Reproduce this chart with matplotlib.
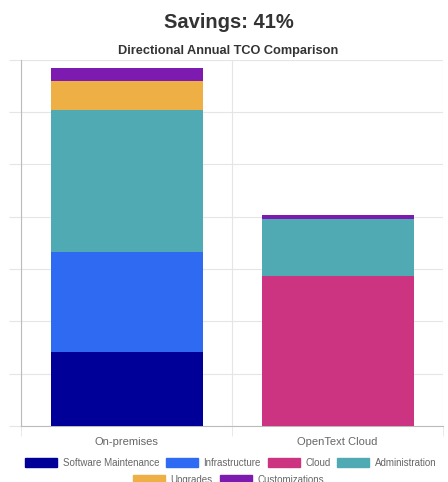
import matplotlib.pyplot as plt
from matplotlib.patches import Patch

plt.rcParams['font.family'] = ['Liberation Sans', 'DejaVu Sans']

# Directional annual TCO (relative units, one grid step = 100)
categories = ["On-premises", "OpenText Cloud"]
series_names = ["Software Maintenance", "Infrastructure", "Cloud",
                "Administration", "Upgrades", "Customizations"]
software_maintenance = [142, 0]
infrastructure = [191, 0]
cloud = [0, 286]
administration = [271, 109]
upgrades = [55, 0]
customizations = [26, 8]

colors = ["#000099", "#2f6bf2", "#cc3380", "#50aab3", "#eeb045", "#7d1ab0"]
series = [software_maintenance, infrastructure, cloud, administration,
          upgrades, customizations]

fig = plt.figure(figsize=(4.48, 4.82), dpi=100)
ax = fig.add_axes([0.047, 0.116, 0.942, 0.760])

x = range(len(categories))
bottom = [0, 0]
for name, vals, c in zip(series_names, series, colors):
    ax.bar(x, vals, bottom=bottom, width=0.72, color=c, label=name, zorder=3)
    bottom = [b + v for b, v in zip(bottom, vals)]

ax.set_xlim(-0.5, 1.5)
ax.set_ylim(0, 700)
ax.set_yticks(range(0, 701, 100))
ax.set_yticklabels([])
ax.set_xticks([0, 1])
ax.set_xticklabels(categories, color="#666666", fontsize=8)
ax.set_xticks([-0.5, 0.5, 1.5], minor=True)
ax.tick_params(axis="x", which="major", length=0, pad=8)
ax.tick_params(axis="x", which="minor", length=7, color="#e5e5e5")
ax.tick_params(axis="y", length=9, color="#e5e5e5")
ax.grid(True, which="major", axis="y", color="#e5e5e5", lw=0.8, zorder=0)
ax.grid(True, which="minor", axis="x", color="#e5e5e5", lw=0.8, zorder=0)
for s in ["top", "right"]:
    ax.spines[s].set_visible(False)
ax.spines["left"].set_color("#bbbbbb")
ax.spines["bottom"].set_color("#bbbbbb")

fig.text(0.51, 0.953, "Savings: 41%", ha="center", va="center",
         fontsize=14.5, fontweight="bold", color="#333333")
fig.text(0.51, 0.895, "Directional Annual TCO Comparison", ha="center",
         va="center", fontsize=9.2, fontweight="bold", color="#333333")

handles = [Patch(facecolor=c, edgecolor=c) for c in colors]
leg_kw = dict(frameon=False, fontsize=7, handlelength=3.3, handleheight=1.1,
              handletextpad=0.55, columnspacing=0.7, labelcolor="#666666")
fig.legend(handles[:4], series_names[:4], loc="center", ncol=4,
           bbox_to_anchor=(0.515, 0.040), **leg_kw)
fig.legend(handles[4:], series_names[4:], loc="center", ncol=2,
           bbox_to_anchor=(0.51, 0.004), **leg_kw)

fig.savefig("out.png", dpi=100)
